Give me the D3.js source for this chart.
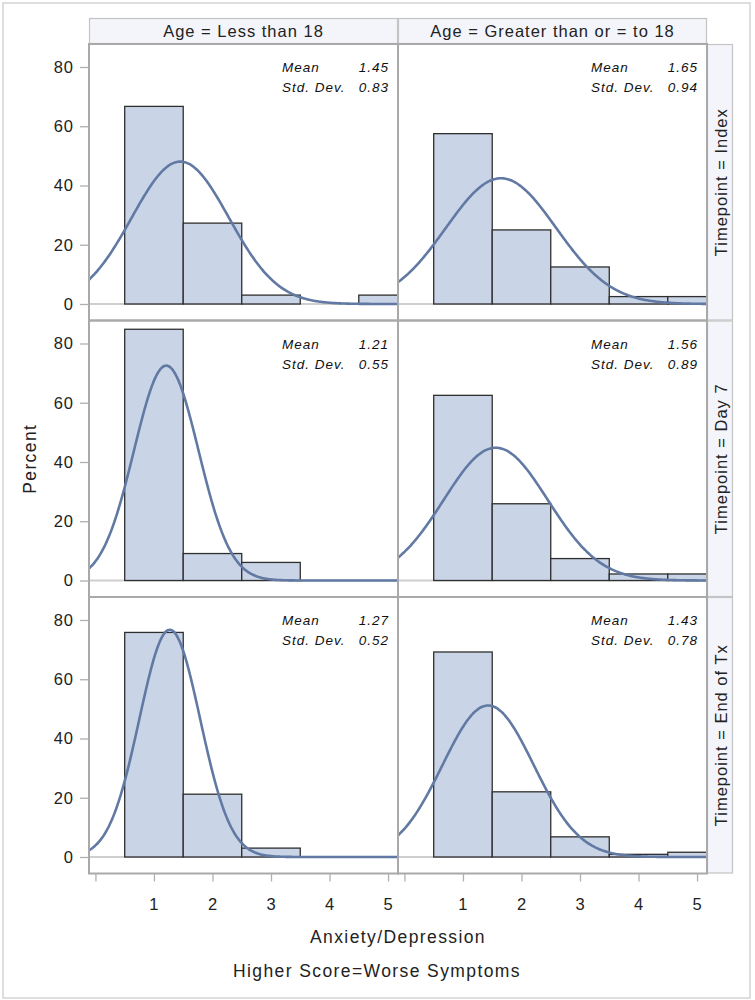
<!DOCTYPE html>
<html>
<head>
<meta charset="utf-8">
<script src="https://cdn.jsdelivr.net/npm/d3@7"></script>
<style>
  html, body { margin: 0; padding: 0; background: #fff; }
  svg { display: block; font-family: "Liberation Sans", Arial, sans-serif; }
</style>
</head>
<body>
<svg id="chart" width="755" height="1000"></svg>
<script>
// ---- data ----
const colLabels = ["Age = Less than 18", "Age = Greater than or = to 18"];
const rowLabels = ["Timepoint = Index", "Timepoint = Day 7", "Timepoint = End of Tx"];
const binScores = [0, 1, 2, 3, 4, 5];
// percent per bin (score 0..5), one list per timepoint
const pctLessThan18 = [
  [0, 66.7, 27.3, 3.0, 0, 3.0],
  [0, 84.8, 9.1, 6.1],
  [0, 75.8, 21.2, 3.0]
];
const pctAtLeast18 = [
  [0, 57.5, 25.0, 12.5, 2.5, 2.5],
  [0, 62.5, 25.9, 7.4, 2.2, 2.2],
  [0, 69.2, 22.0, 6.8, 0.9, 1.6]
];
const meanLessThan18 = [1.45, 1.21, 1.27];
const sdLessThan18 = [0.83, 0.55, 0.52];
const meanAtLeast18 = [1.65, 1.56, 1.43];
const sdAtLeast18 = [0.94, 0.89, 0.78];
const yTicks = [0, 20, 40, 60, 80];
const xTicks = [0, 1, 2, 3, 4, 5];
const xTitle = "Anxiety/Depression";
const footnote = "Higher Score=Worse Symptoms";
const yTitle = "Percent";

// ---- layout ----
const svg = d3.select("#chart");
const gridLeft = 89, gridTop = 44, colW = 309, rowH = 276.5;
const stripW = 26, headerH = 26;
const binWidth = 1;

const x = d3.scaleLinear().domain([-0.11, 5.17]).range([0, colW]);
const y = d3.scaleLinear().domain([-5.57, 87.76]).range([rowH, 0]);

const barFill = "#c9d5e6", barStroke = "#2f2f2f", curveColor = "#6179a3";
const frameColor = "#a9a9a9", stripFill = "#f3f5fb", textColor = "#222";
const fontMain = "16.5px", lsMain = "1px";
const fontTitle = "17.5px", lsTitle = "1.4px";

// outer frame
svg.append("rect").attr("x", 3).attr("y", 3).attr("width", 747).attr("height", 995)
  .attr("fill", "none").attr("stroke", "#d4d4d4").attr("stroke-width", 1.5);

const panels = [
  { pct: pctLessThan18, mean: meanLessThan18, sd: sdLessThan18 },
  { pct: pctAtLeast18, mean: meanAtLeast18, sd: sdAtLeast18 }
];

const defs = svg.append("defs");

// column headers
colLabels.forEach((lab, c) => {
  const gx = gridLeft + c * colW;
  svg.append("rect").attr("x", gx + 0.5).attr("y", gridTop - headerH + 0.5)
    .attr("width", colW - 1).attr("height", headerH - 1)
    .attr("fill", stripFill).attr("stroke", "#c4c4c4").attr("stroke-width", 1.2);
  svg.append("text").attr("x", gx + colW / 2).attr("y", gridTop - headerH / 2 + 6)
    .attr("text-anchor", "middle").style("font-size", fontMain).style("letter-spacing", lsMain)
    .attr("fill", textColor).text(lab);
});

// row strips
rowLabels.forEach((lab, r) => {
  const gy = gridTop + r * rowH;
  const sx = gridLeft + 2 * colW;
  svg.append("rect").attr("x", sx + 0.5).attr("y", gy + 0.5)
    .attr("width", stripW - 1).attr("height", rowH - 1)
    .attr("fill", stripFill).attr("stroke", "#c4c4c4").attr("stroke-width", 1.2);
  svg.append("text")
    .attr("transform", `translate(${sx + stripW / 2 + 7},${gy + rowH / 2}) rotate(-90)`)
    .attr("text-anchor", "middle").style("font-size", fontMain).style("letter-spacing", lsMain)
    .attr("fill", textColor).text(lab);
});

const line = d3.line().x(d => x(d[0])).y(d => y(d[1])).curve(d3.curveBasis);

rowLabels.forEach((_, r) => {
  panels.forEach((p, c) => {
    const gx = gridLeft + c * colW, gy = gridTop + r * rowH;
    const g = svg.append("g").attr("transform", `translate(${gx},${gy})`);
    const clipId = `clip-${r}-${c}`;
    defs.append("clipPath").attr("id", clipId).append("rect")
      .attr("x", 0).attr("y", 0).attr("width", colW).attr("height", rowH);
    const inner = g.append("g").attr("clip-path", `url(#${clipId})`);

    // zero reference line
    inner.append("line").attr("x1", 0).attr("x2", colW).attr("y1", y(0)).attr("y2", y(0))
      .attr("stroke", "#cfcfcf").attr("stroke-width", 2);

    const vals = p.pct[r];
    const bins = vals.map((v, i) => ({ s: binScores[i], v }));
    inner.selectAll("rect.bar").data(bins).enter().append("rect").attr("class", "bar")
      .attr("x", d => x(d.s - binWidth / 2))
      .attr("width", d => x(d.s + binWidth / 2) - x(d.s - binWidth / 2))
      .attr("y", d => y(d.v))
      .attr("height", d => y(0) - y(d.v))
      .attr("fill", barFill).attr("stroke", barStroke).attr("stroke-width", 1.3);

    // fitted normal density (percent scale, bin width 1)
    const m = p.mean[r], s = p.sd[r];
    const [d0, d1] = x.domain();
    const pts = d3.range(d0, d1 + 0.01, 0.02).map(t =>
      [t, 100 * binWidth * Math.exp(-0.5 * ((t - m) / s) ** 2) / (s * Math.sqrt(2 * Math.PI))]);
    inner.append("path").datum(pts).attr("d", line)
      .attr("fill", "none").attr("stroke", curveColor).attr("stroke-width", 2.6);

    // inset statistics
    const ins = g.append("g").style("font-size", "13.5px").style("font-style", "italic")
      .style("letter-spacing", "1px").attr("fill", "#111");
    ins.append("text").attr("x", colW - 116).attr("y", 28).text("Mean");
    ins.append("text").attr("x", colW - 116).attr("y", 48).text("Std. Dev.");
    ins.append("text").attr("x", colW - 9).attr("y", 28).attr("text-anchor", "end")
      .text(d3.format(".2f")(m));
    ins.append("text").attr("x", colW - 9).attr("y", 48).attr("text-anchor", "end")
      .text(d3.format(".2f")(s));

    // panel border
    g.append("rect").attr("x", 0).attr("y", 0).attr("width", colW).attr("height", rowH)
      .attr("fill", "none").attr("stroke", frameColor).attr("stroke-width", 2);

    // y axis for left column
    if (c === 0) {
      const ya = g.append("g").call(d3.axisLeft(y).tickValues(yTicks).tickSize(9).tickPadding(6));
      ya.select(".domain").remove();
      ya.selectAll(".tick line").attr("stroke", "#b0b0b0").attr("stroke-width", 1.3);
      ya.selectAll(".tick text").style("font-size", fontMain).style("letter-spacing", lsMain)
        .attr("fill", textColor).attr("font-family", null);
    }
    // x axis for bottom row
    if (r === rowLabels.length - 1) {
      const xa = g.append("g").attr("transform", `translate(0,${rowH})`)
        .call(d3.axisBottom(x).tickValues(xTicks).tickSize(8).tickPadding(17)
          .tickFormat(d => d === 0 ? "" : d));
      xa.select(".domain").remove();
      xa.selectAll(".tick line").attr("stroke", "#b0b0b0").attr("stroke-width", 1.3);
      xa.selectAll(".tick text").style("font-size", fontMain).style("letter-spacing", lsMain)
        .attr("fill", textColor).attr("font-family", null);
    }
  });
});

// titles
svg.append("text").attr("x", gridLeft + colW).attr("y", 943).attr("text-anchor", "middle")
  .style("font-size", fontTitle).style("letter-spacing", lsTitle).attr("fill", textColor).text(xTitle);
svg.append("text").attr("x", 377).attr("y", 977).attr("text-anchor", "middle")
  .style("font-size", fontTitle).style("letter-spacing", lsTitle).attr("fill", textColor).text(footnote);
svg.append("text").attr("transform", `translate(36,${gridTop + 1.5 * rowH}) rotate(-90)`)
  .attr("text-anchor", "middle").style("font-size", fontTitle).style("letter-spacing", lsTitle)
  .attr("fill", textColor).text(yTitle);
</script>
</body>
</html>
